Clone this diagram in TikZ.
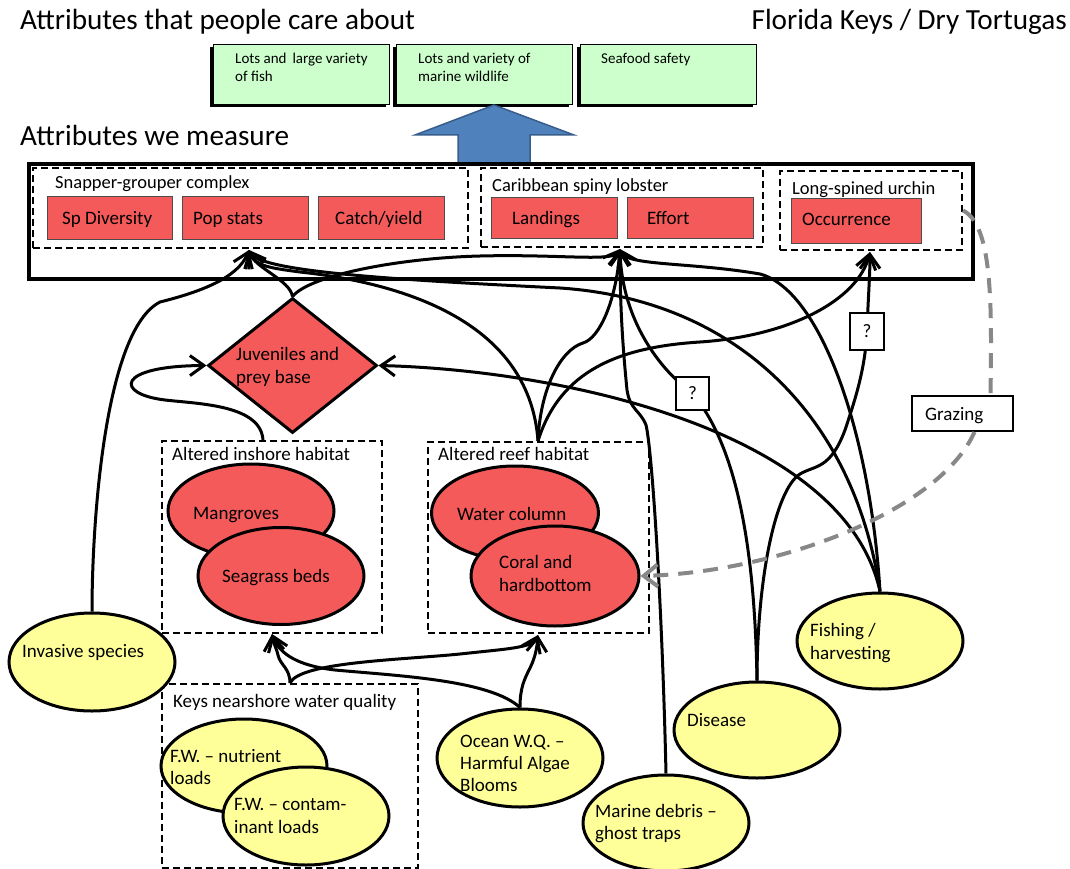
\documentclass[tikz,border=0pt]{standalone}
\usepackage{fontspec}
\setmainfont{Carlito}
\usetikzlibrary{shapes.geometric,arrows.meta,calc}
\definecolor{redf}{RGB}{245,90,90}
\definecolor{yelf}{RGB}{255,255,153}
\definecolor{grnf}{RGB}{204,255,204}
\definecolor{bluf}{RGB}{79,129,189}
\definecolor{blud}{RGB}{56,93,138}
\definecolor{gryl}{RGB}{136,136,136}
\begin{document}
\begin{tikzpicture}[x=1pt,y=-1pt,
 big/.style={anchor=base west,inner sep=0pt,font=\fontsize{29.2pt}{35pt}\selectfont},
 txt/.style={anchor=base west,inner sep=0pt,font=\fontsize{19pt}{23pt}\selectfont},
 grp/.style={anchor=base west,inner sep=0pt,font=\fontsize{18.5pt}{22pt}\selectfont},
 sml/.style={anchor=base west,inner sep=0pt,font=\fontsize{15pt}{18pt}\selectfont},
 gbox/.style={draw,line width=1pt,fill=grnf,anchor=north west,inner sep=0pt,minimum width=176pt,minimum height=60pt},
 rbox/.style={draw=black!70,line width=1pt,fill=redf,anchor=north west,inner sep=0pt},
 dbox/.style={draw,line width=2pt,dash pattern=on 7pt off 4pt,anchor=north west,inner sep=0pt},
 ell/.style={ellipse,draw,line width=3pt,inner sep=0pt},
 rell/.style={ell,fill=redf},
 yell/.style={ell,fill=yelf},
 link/.style={line width=3pt,-{Straight Barb[length=14pt,width=20pt]}},
 qbox/.style={draw,line width=2pt,fill=white,inner sep=0pt,font=\fontsize{19pt}{23pt}\selectfont},
 graze/.style={draw=gryl,line width=4pt,dash pattern=on 15pt off 10pt}
]
\useasboundingbox (0,0) rectangle (1070,869);

% titles
\node[big] (t1) at (20,30) {Attributes that people care about};
\node[big,anchor=base east] (t2) at (1067,30) {Florida Keys / Dry Tortugas};
\node[big] (t3) at (20,146) {Attributes we measure};

% green boxes
\fill (210,47) rectangle ++(176,60);
\fill (393,47) rectangle ++(176,60);
\fill (577,47) rectangle ++(176,60);
\node[gbox] (g1) at (213,44) {};
\node[gbox] (g2) at (396,44) {};
\node[gbox] (g3) at (580,44) {};
\node[sml] (g1a) at (235,64) {Lots and\, large variety};
\node[sml] (g1b) at (235,82) {of fish};
\node[sml] (g2a) at (418,64) {Lots and variety of};
\node[sml] (g2b) at (418,82) {marine wildlife};
\node[sml] (g3a) at (601,64) {Seafood safety};

% blue arrow
\draw[fill=bluf,draw=blud,line width=1.5pt] (458,163) -- (458,135) -- (415,135) -- (494,105) -- (574,135) -- (530,135) -- (530,163) -- cycle;

% measured attributes
\node[draw,line width=4pt,fill=white,anchor=north west,inner sep=0pt,minimum width=944pt,minimum height=115pt] (meas) at (27,162) {};
\node[dbox,minimum width=435pt,minimum height=80pt] (snap) at (32,167) {};
\node[dbox,minimum width=282pt,minimum height=79pt] (lob) at (480,167) {};
\node[dbox,minimum width=182pt,minimum height=79pt] (urch) at (779,170) {};
\node[grp] (snapl) at (55,189) {Snapper-grouper complex};
\node[grp] (lobl) at (492,191) {Caribbean spiny lobster};
\node[grp] (urchl) at (792,194) {Long-spined urchin};
\node[rbox,minimum width=125pt,minimum height=43pt] (spd) at (47,196) {};
\node[rbox,minimum width=126pt,minimum height=43pt] (pop) at (182,196) {};
\node[rbox,minimum width=126pt,minimum height=43pt] (cat) at (318,196) {};
\node[rbox,minimum width=126pt,minimum height=41pt] (land) at (491,197) {};
\node[rbox,minimum width=126pt,minimum height=41pt] (eff) at (627,197) {};
\node[rbox,minimum width=130pt,minimum height=45pt] (occ) at (791,198) {};
\node[txt] (spdl) at (62,224) {Sp Diversity};
\node[txt] (popl) at (193,224) {Pop stats};
\node[txt] (catl) at (335,224) {Catch/yield};
\node[txt] (landl) at (512,224) {Landings};
\node[txt] (effl) at (647,224) {Effort};
\node[txt] (occl) at (802,225) {Occurrence};

% diamond
\node[diamond,draw,line width=3pt,fill=redf,inner sep=0pt,minimum width=169pt,minimum height=135pt] (juv) at (292.5,365.5) {};
\node[txt] (juva) at (236,360) {Juveniles and};
\node[txt] (juvb) at (236,383) {prey base};

% habitat boxes
\node[dbox,minimum width=220pt,minimum height=192pt] (ins) at (161,440) {};
\node[txt] (insl) at (172,460) {Altered inshore habitat};
\node[rell,minimum width=166pt,minimum height=94pt] (mang) at (251,511) {};
\node[txt] (mangl) at (193,519) {Mangroves};
\node[rell,minimum width=166pt,minimum height=97pt] (seag) at (281,576) {};
\node[txt] (seagl) at (222,582) {Seagrass beds};

\node[dbox,minimum width=221pt,minimum height=191pt] (reef) at (427,441) {};
\node[txt] (reefl) at (438,460) {Altered reef habitat};
\node[rell,minimum width=167pt,minimum height=94pt] (wcol) at (515,513) {};
\node[txt] (wcoll) at (457,520) {Water column};
\node[rell,minimum width=168pt,minimum height=100pt] (coral) at (555,576) {};
\node[txt] (corala) at (499,568) {Coral and};
\node[txt] (coralb) at (499,591) {hardbottom};

% water quality
\node[dbox,minimum width=256pt,minimum height=184pt] (keys) at (161,683) {};
\node[txt] (keysl) at (173,707) {Keys nearshore water quality};
\node[yell,minimum width=166pt,minimum height=94pt] (fwn) at (244,766) {};
\node[txt] (fwna) at (170,762) {F.W. – nutrient};
\node[txt] (fwnb) at (170,784) {loads};
\node[yell,minimum width=166pt,minimum height=98pt] (fwc) at (306,816) {};
\node[txt] (fwca) at (234,810) {F.W. – contam-};
\node[txt] (fwcb) at (234,833) {inant loads};

% stressors
\node[yell,minimum width=166pt,minimum height=98pt] (inv) at (92,662) {};
\node[txt] (invl) at (22,657) {Invasive species};
\node[yell,minimum width=166pt,minimum height=98pt] (ocean) at (520,758) {};
\node[txt] (oceana) at (460,747) {Ocean W.Q. –};
\node[txt] (oceanb) at (460,769) {Harmful Algae};
\node[txt] (oceanc) at (460,791) {Blooms};
\node[yell,minimum width=166pt,minimum height=96pt] (deb) at (666,823) {};
\node[txt] (deba) at (595,817) {Marine debris –};
\node[txt] (debb) at (595,839) {ghost traps};
\node[yell,minimum width=166pt,minimum height=96pt] (dis) at (757,730) {};
\node[txt] (disl) at (687,726) {Disease};
\node[yell,minimum width=166pt,minimum height=96pt] (fish) at (880,641) {};
\node[txt] (fisha) at (810,636) {Fishing /};
\node[txt] (fishb) at (810,659) {harvesting};

% targets
\coordinate (A) at (249,250);
\coordinate (B) at (620,249);
\coordinate (C) at (870,252);
\coordinate (F) at (272,634);
\coordinate (G) at (538,635);
\coordinate (reeftop) at (538,441);
\coordinate (instop) at (263,441);
\coordinate (keystop) at (290,683);

% connectors
\draw[link] (inv.north) .. controls (92,520) and (105,330) .. (160,302) .. controls (200,292) and (238,278) .. (A);
\draw[link] (juv.north) .. controls (290,280) and (255,268) .. (A);
\draw[link] (reeftop) .. controls (530,330) and (420,285) .. (300,272) .. controls (270,268) and (255,266) .. (A);
\draw[link] (fish.north) .. controls (855,420) and (740,300) .. (560,288) .. controls (400,280) and (262,272) .. (A);
\draw[link] (instop) .. controls (262,405) and (200,404) .. (165,400) .. controls (115,394) and (115,366) .. (juv.west);
\draw[link] (fish.north) .. controls (845,430) and (560,370) .. (juv.east);
\draw[link] (juv.north) .. controls (310,275) and (400,258) .. (480,256) .. controls (560,254) and (612,262) .. (B);
\draw[link] (reeftop) .. controls (540,390) and (560,350) .. (583,343) .. controls (600,338) and (616,300) .. (B);
\draw[link] (fish.north) .. controls (870,430) and (820,290) .. (760,274) .. controls (690,262) and (628,266) .. (B);
\draw[link] (deb.north) .. controls (662,600) and (652,450) .. (646,425) .. controls (640,410) and (630,410) .. (627,390) .. controls (622,340) and (620,300) .. (B);
\draw[link] (reeftop) .. controls (560,370) and (620,347) .. (700,342) .. controls (790,336) and (858,300) .. (C);
\draw[line width=3pt] (dis.north) .. controls (755,560) and (740,450) .. (692.5,393.5);
\draw[link] (692.5,393.5) .. controls (660,370) and (622,320) .. (B);
\draw[line width=3pt] (dis.north) .. controls (757,580) and (775,490) .. (800,474) .. controls (815,465) and (830,470) .. (845,430) .. controls (855,400) and (865,370) .. (867,331.5);
\draw[link] (867,331.5) .. controls (868,300) and (870,275) .. (C);
\draw[link] (keystop) .. controls (290,668) and (280,665) .. (278,655) .. controls (276,647) and (273,642) .. (F);
\draw[link] (keystop) .. controls (300,662) and (400,660) .. (460,654) .. controls (505,649) and (532,648) .. (G);
\draw[link] (ocean.north) .. controls (520,688) and (524,680) .. (530,668) .. controls (535,658) and (537,648) .. (G);
\draw[link] (ocean.north) .. controls (490,680) and (400,676) .. (335,670) .. controls (300,666) and (280,655) .. (F);

% question boxes and grazing
\node[qbox,minimum width=33pt,minimum height=33pt] (q1) at (692.5,393.5) {?};
\node[qbox,minimum width=34pt,minimum height=37pt] (q2) at (867,331.5) {?};
\node[draw,line width=2pt,fill=white,inner sep=0pt,minimum width=101pt,minimum height=35pt] (graz) at (962.5,413.5) {};
\node[txt] (grazl) at (925,420) {Grazing};
\draw[graze] (urch.east) .. controls (992,225) and (992,300) .. ($(graz.north)+(28,0)$);
\draw[graze,-{Straight Barb[length=14pt,width=22pt]}] ($(graz.south)+(12,0)$) .. controls (940,510) and (780,572) .. (coral.east);
\end{tikzpicture}
\end{document}
